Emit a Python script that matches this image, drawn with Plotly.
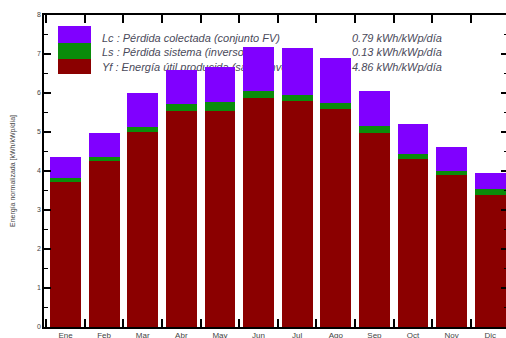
import plotly.graph_objects as go

months = ["Ene", "Feb", "Mar", "Abr", "May", "Jun", "Jul", "Ago", "Sep", "Oct", "Nov", "Dic"]
yf = [3.73, 4.26, 5.01, 5.54, 5.54, 5.88, 5.79, 5.58, 4.97, 4.32, 3.90, 3.38]
ls = [0.08, 0.11, 0.13, 0.18, 0.24, 0.17, 0.16, 0.17, 0.19, 0.12, 0.11, 0.15]
lc = [0.56, 0.61, 0.87, 0.87, 0.89, 1.14, 1.20, 1.14, 0.90, 0.76, 0.61, 0.43]

legend_labels = [
    "Lc : Pérdida colectada (conjunto FV)",
    "Ls : Pérdida sistema (inversor, ...)",
    "Yf : Energía útil producida (salida inversor)",
]
legend_values = ["0.79 kWh/kWp/día", "0.13 kWh/kWp/día", "4.86 kWh/kWp/día"]
y_title = "Energía normalizada [kWh/kWp/día]"

C_LC = "#8000ff"
C_LS = "#0a8c0a"
C_YF = "#8b0000"
FONT = "Liberation Sans"
TXT = "#4a4a5a"

fig = go.Figure()
for name, vals, col in [("Yf", yf, C_YF), ("Ls", ls, C_LS), ("Lc", lc, C_LC)]:
    fig.add_trace(go.Bar(x=months, y=vals, name=name, marker=dict(color=col, line=dict(width=0)),
                         width=0.8, showlegend=False))

# plot area spans page x 44..508 (464 px)
PW = 464.0
def px(p):
    return (p - 44) / PW

for (y0, y1, col) in [(7.28, 7.72, C_LC), (6.87, 7.28, C_LS), (6.49, 6.87, C_YF)]:
    fig.add_shape(type="rect", xref="paper", yref="y", x0=px(58), x1=px(91), y0=y0, y1=y1,
                  fillcolor=col, line=dict(width=0), layer="below")

line_y = [7.44, 7.08, 6.69]
for txt, val, yy in zip(legend_labels, legend_values, line_y):
    fig.add_shape(type="rect", xref="paper", yref="y", x0=px(99), x1=px(330), y0=yy - 0.1, y1=yy + 0.1,
                  fillcolor="rgba(0,0,0,0)", line=dict(width=0), layer="below",
                  label=dict(text=txt, textposition="middle left", padding=0,
                             font=dict(family=FONT, size=11, color=TXT, style="italic")))
    fig.add_shape(type="rect", xref="paper", yref="y", x0=px(349), x1=px(460), y0=yy - 0.1, y1=yy + 0.1,
                  fillcolor="rgba(0,0,0,0)", line=dict(width=0), layer="below",
                  label=dict(text=val, textposition="middle left", padding=0,
                             font=dict(family=FONT, size=11, color=TXT, style="italic")))

fig.update_layout(
    width=508, height=338,
    margin=dict(l=44, r=0, t=15, b=11, autoexpand=False),
    barmode="stack",
    bargap=0.2,
    paper_bgcolor="white",
    plot_bgcolor="rgba(0,0,0,0)",
    font=dict(family=FONT, size=8, color="#444"),
    xaxis=dict(type="category", categoryorder="array", categoryarray=months,
               range=[-0.557, 11.46], showline=True, linecolor="black", linewidth=1.5,
               mirror="ticks", ticks="inside", tickson="boundaries", ticklen=8,
               tickcolor="black", tickwidth=1.5, showgrid=False, automargin=False,
               tickfont=dict(size=8, color="#444")),
    yaxis=dict(range=[0, 8], dtick=1, showline=True, linecolor="black", linewidth=1.5,
               mirror="ticks", ticks="inside", ticklen=7, tickcolor="black", tickwidth=1.5,
               minor=dict(dtick=0.5, ticks="inside", ticklen=4, tickcolor="black", tickwidth=1),
               showgrid=False, zeroline=False, automargin=False,
               tickfont=dict(size=7, color="#444"),
               title=dict(text=y_title, font=dict(size=7, color="#444"), standoff=20)),
)

page_css = ("document.body.style.margin='0';"
            "document.body.style.overflow='hidden';"
            "document.documentElement.style.overflow='hidden';")
fig.write_html("out.html", post_script=page_css, config={"displayModeBar": False})
